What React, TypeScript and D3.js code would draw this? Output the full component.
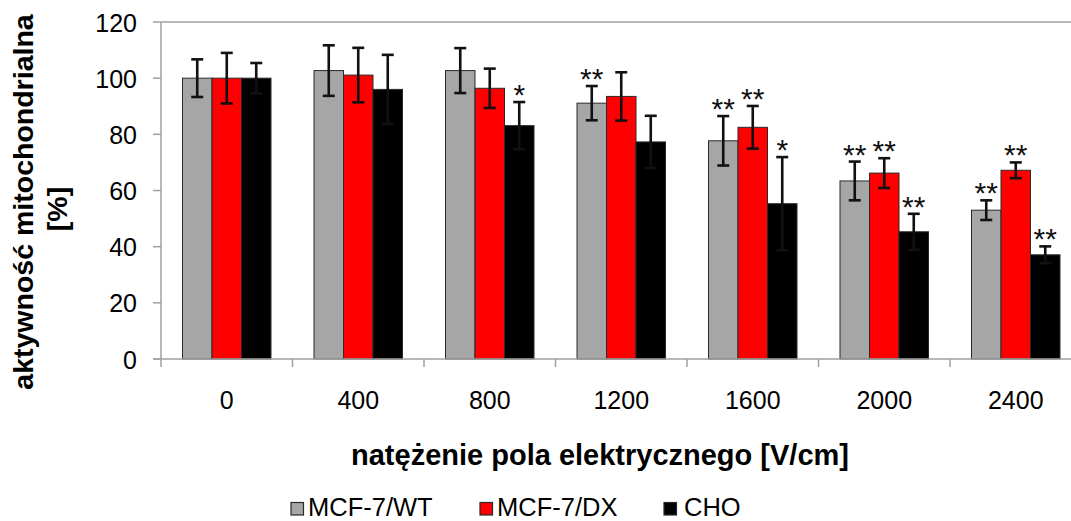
import * as d3 from 'd3';

const categories = ['0', '400', '800', '1200', '1600', '2000', '2400'];
const seriesNames = ['MCF-7/WT', 'MCF-7/DX', 'CHO'];
const seriesColors = ['#a6a6a6', '#ff0000', '#000000'];

// mean values [%]
const wtValues = [100, 102.7, 102.7, 91.1, 77.7, 63.4, 53.0];
const dxValues = [100, 101.1, 96.4, 93.5, 82.5, 66.2, 67.2];
const choValues = [100, 96.0, 83.1, 77.3, 55.3, 45.3, 37.1];

// standard deviations
const wtErrors = [6.7, 9.0, 8.0, 6.1, 8.8, 6.9, 3.5];
const dxErrors = [9.0, 9.7, 7.0, 8.6, 7.6, 5.3, 2.8];
const choErrors = [5.4, 12.3, 8.4, 9.3, 16.6, 6.4, 3.0];

// significance marks
const wtStars = ['', '', '', '**', '**', '**', '**'];
const dxStars = ['', '', '', '', '**', '**', '**'];
const choStars = ['', '', '*', '', '*', '**', '**'];

const yTicks = [0, 20, 40, 60, 80, 100, 120];

const W = 1071;
const H = 521;
const FONT = '"Liberation Sans", Arial, sans-serif';

export default function App() {
  const left = 161;
  const step = 131.5;
  const x0 = d3
    .scaleBand<string>()
    .domain(categories)
    .range([left, left + step * categories.length])
    .paddingInner(43 / step)
    .paddingOuter(21.5 / step);
  const x1 = d3.scaleBand<string>().domain(seriesNames).range([0, x0.bandwidth()]);
  const y = d3.scaleLinear().domain([0, 120]).range([359, 22]);

  const values = [wtValues, dxValues, choValues];
  const errors = [wtErrors, dxErrors, choErrors];
  const stars = [wtStars, dxStars, choStars];

  const axisColor = '#a0a0a0';
  const right = left + step * categories.length;

  const legendItems = [
    { sq: 291, tx: 308 },
    { sq: 480, tx: 497 },
    { sq: 664, tx: 684 },
  ];

  return (
    <svg
      width={W}
      height={H}
      style={{ position: 'absolute', left: 0, top: 0, background: '#fff' }}
      fontFamily={FONT}
    >
      {/* top line at 120 */}
      <line x1={left} x2={right} y1={y(120)} y2={y(120)} stroke={axisColor} strokeWidth={1.5} />

      {/* bars */}
      {categories.map((c, ci) => (
        <g key={c} transform={`translate(${x0(c)},0)`}>
          {seriesNames.map((s, si) => (
            <rect
              key={s}
              x={x1(s)}
              y={y(values[si][ci])}
              width={x1.bandwidth()}
              height={y(0) - y(values[si][ci])}
              fill={seriesColors[si]}
              stroke="#2a2a2a"
              strokeWidth={1}
            />
          ))}
        </g>
      ))}

      {/* error bars */}
      {categories.map((c, ci) => (
        <g key={c + '-err'} transform={`translate(${x0(c)},0)`}>
          {seriesNames.map((s, si) => {
            const cx = (x1(s) as number) + x1.bandwidth() / 2;
            const top = y(values[si][ci] + errors[si][ci]);
            const bot = y(values[si][ci] - errors[si][ci]);
            return (
              <g key={s} stroke="#111" strokeWidth={2.6}>
                <line x1={cx} x2={cx} y1={top} y2={bot} />
                <line x1={cx - 6} x2={cx + 6} y1={top} y2={top} />
                <line x1={cx - 6} x2={cx + 6} y1={bot} y2={bot} />
              </g>
            );
          })}
        </g>
      ))}

      {/* significance stars */}
      {categories.map((c, ci) => (
        <g key={c + '-star'} transform={`translate(${x0(c)},0)`}>
          {seriesNames.map((s, si) =>
            stars[si][ci] ? (
              <text
                key={s}
                x={(x1(s) as number) + x1.bandwidth() / 2}
                y={y(values[si][ci] + errors[si][ci]) + 3}
                textAnchor="middle"
                fontSize={30}
                fill="#111"
              >
                {stars[si][ci]}
              </text>
            ) : null
          )}
        </g>
      ))}

      {/* y axis */}
      <line x1={left} x2={left} y1={y(120)} y2={y(0)} stroke={axisColor} strokeWidth={1.5} />
      {yTicks.map((t) => (
        <g key={t}>
          <line x1={left - 8} x2={left} y1={y(t)} y2={y(t)} stroke={axisColor} strokeWidth={1.5} />
          <text x={137} y={y(t) + 9.5} textAnchor="end" fontSize={25} fill="#000">
            {t}
          </text>
        </g>
      ))}

      {/* x axis */}
      <line x1={left - 8} x2={right} y1={y(0)} y2={y(0)} stroke={axisColor} strokeWidth={1.5} />
      {categories.map((c, ci) => (
        <line
          key={c + '-tick'}
          x1={left + step * ci}
          x2={left + step * ci}
          y1={y(0)}
          y2={y(0) + 8}
          stroke={axisColor}
          strokeWidth={1.5}
        />
      ))}
      {categories.map((c) => (
        <text
          key={c + '-lab'}
          x={(x0(c) as number) + x0.bandwidth() / 2}
          y={409}
          textAnchor="middle"
          fontSize={25}
          fill="#000"
        >
          {c}
        </text>
      ))}

      {/* axis titles */}
      <text x={600} y={465} textAnchor="middle" fontSize={29} fontWeight="bold" fill="#000">
        natężenie pola elektrycznego [V/cm]
      </text>
      <g transform="translate(33,202) rotate(-90)">
        <text x={0} y={0} textAnchor="middle" fontSize={28.5} fontWeight="bold" fill="#000">
          aktywność mitochondrialna
        </text>
        <text x={-7} y={34} textAnchor="middle" fontSize={28.5} fontWeight="bold" fill="#000">
          [%]
        </text>
      </g>

      {/* legend */}
      {seriesNames.map((s, si) => (
        <g key={s + '-leg'}>
          <rect
            x={legendItems[si].sq}
            y={502.5}
            width={12.5}
            height={12.5}
            fill={seriesColors[si]}
            stroke="#2a2a2a"
            strokeWidth={1.2}
          />
          <text x={legendItems[si].tx} y={515.5} fontSize={25.5} fill="#000">
            {s}
          </text>
        </g>
      ))}
    </svg>
  );
}
